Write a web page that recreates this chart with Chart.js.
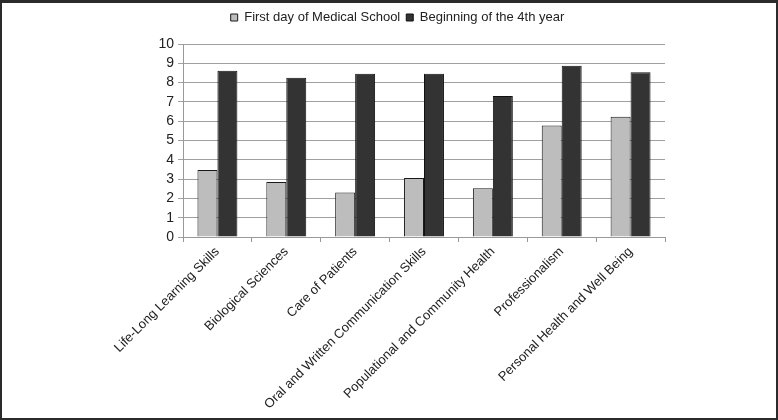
<!DOCTYPE html>
<html>
<head>
<meta charset="utf-8">
<script src="https://cdn.jsdelivr.net/npm/chart.js@4.4.0/dist/chart.umd.min.js"></script>
<style>
  html, body { margin: 0; padding: 0; background: #fff; }
  #frame { position: relative; width: 774px; height: 415px; border: 2px solid #2b2b2b; border-top-width: 3px; background: #fff; }
  canvas { display: block; }
</style>
</head>
<body>
<div id="frame"><canvas id="grafico" width="774" height="415"></canvas></div>
<script>
// Competências: autoavaliação no 1º dia x início do 4º ano
const categorias = [
    'Life-Long Learning Skills',
    'Biological Sciences',
    'Care of Patients',
    'Oral and Written Communication Skills',
    'Populational and Community Health',
    'Professionalism',
    'Personal Health and Well Being'
];
const primeiroDia = [3.47, 2.85, 2.31, 3.06, 2.53, 5.78, 6.23];
const quartoAno = [8.61, 8.25, 8.46, 8.46, 7.31, 8.87, 8.54];
const ticksY = [0, 1, 2, 3, 4, 5, 6, 7, 8, 9, 10];

const fonte = "'Liberation Sans', Arial, sans-serif";
const ctx = document.getElementById('grafico').getContext('2d');

// espaço extra entre a legenda e o gráfico
const margemLegenda = {
    id: 'margemLegenda',
    beforeInit(chart) {
        const fitOriginal = chart.legend.fit;
        chart.legend.fit = function () {
            fitOriginal.bind(chart.legend)();
            this.height += 10;
        };
    }
};

new Chart(ctx, {
    type: 'bar',
    data: {
        labels: categorias,
        datasets: [{
            label: 'First day of Medical School',
            data: primeiroDia,
            backgroundColor: '#bdbdbd',
            borderColor: '#1a1a1a',
            borderWidth: 1,
            categoryPercentage: 0.58,
            barPercentage: 1.0
        }, {
            label: 'Beginning of the 4th year',
            data: quartoAno,
            backgroundColor: '#333333',
            borderColor: '#111111',
            borderWidth: 1,
            categoryPercentage: 0.58,
            barPercentage: 1.0
        }]
    },
    plugins: [margemLegenda],
    options: {
        responsive: false,
        animation: false,
        layout: { padding: { top: 2, left: 128, right: 111, bottom: 0 } },
        plugins: {
            legend: {
                position: 'top',
                labels: {
                    font: { family: fonte, size: 13 },
                    color: '#222',
                    boxWidth: 7,
                    boxHeight: 7,
                    padding: 6
                }
            },
            tooltip: { enabled: false }
        },
        scales: {
            x: {
                grid: { drawOnChartArea: false, drawTicks: true, tickLength: 5, color: '#999' },
                border: { color: '#999' },
                ticks: {
                    font: { family: fonte, size: 13 },
                    color: '#222',
                    minRotation: 45,
                    maxRotation: 45,
                    autoSkip: false,
                    padding: 2
                },
                afterFit: (escala) => { escala.height = 181; }
            },
            y: {
                min: 0,
                max: 10,
                afterBuildTicks: (escala) => { escala.ticks = ticksY.map(v => ({ value: v })); },
                grid: { color: '#a0a0a0', tickLength: 5 },
                border: { color: '#999' },
                ticks: {
                    font: { family: fonte, size: 14 },
                    color: '#222',
                    padding: 4,
                    autoSkip: false
                },
                afterFit: (escala) => { escala.width = 53; }
            }
        }
    }
});
</script>
</body>
</html>
